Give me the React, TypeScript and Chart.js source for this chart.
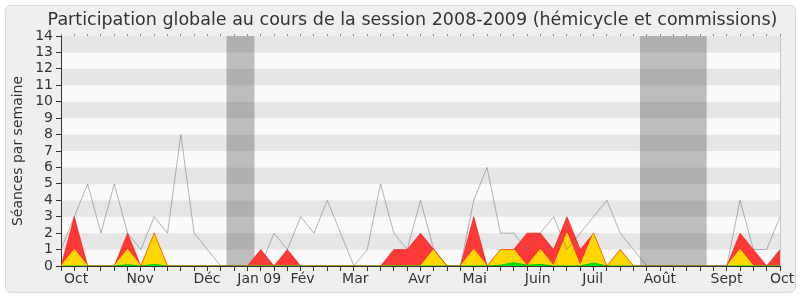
import React, { useEffect, useRef } from "react";
import { Chart, registerables } from "chart.js";

Chart.register(...registerables);
Chart.defaults.font.family = "'DejaVu Sans', sans-serif";

// Weekly values, session 2008-2009 (55 weeks, Oct -> Oct)
const semaines = [
  0, 1, 2, 3, 4, 5, 6, 7, 8, 9, 10, 11, 12, 13, 14, 15, 16, 17, 18, 19, 20, 21, 22, 23, 24, 25, 26, 27,
  28, 29, 30, 31, 32, 33, 34, 35, 36, 37, 38, 39, 40, 41, 42, 43, 44, 45, 46, 47, 48, 49, 50, 51, 52, 53, 54,
];

// red: total sessions attended (hémicycle + commissions)
const seancesTotal = [
  0, 3, 0, 0, 0, 2, 0, 2, 0, 0, 0, 0, 0, 0, 0, 1, 0, 1, 0, 0, 0, 0, 0, 0, 0, 1, 1, 2,
  1, 0, 0, 3, 0, 1, 1, 2, 2, 1, 3, 1, 2, 0, 1, 0, 0, 0, 0, 0, 0, 0, 0, 2, 1, 0, 1,
];

// yellow: commission sessions
const seancesCommission = [
  0, 1, 0, 0, 0, 1, 0, 2, 0, 0, 0, 0, 0, 0, 0, 0, 0, 0, 0, 0, 0, 0, 0, 0, 0, 0, 0, 0,
  1, 0, 0, 1, 0, 1, 1, 0, 1, 0, 2, 0, 2, 0, 1, 0, 0, 0, 0, 0, 0, 0, 0, 1, 0, 0, 0,
];

// green: interventions
const interventions = [
  0, 0, 0, 0, 0, 0.08, 0, 0.1, 0, 0, 0, 0, 0, 0, 0, 0, 0, 0, 0, 0, 0, 0, 0, 0, 0, 0, 0, 0,
  0, 0, 0, 0, 0, 0.05, 0.2, 0.05, 0.1, 0, 0, 0, 0.18, 0, 0, 0, 0, 0, 0, 0, 0, 0, 0, 0, 0, 0, 0,
];

// grey line: average deputy participation
const moyenne = [
  1, 3, 5, 2, 5, 2, 1, 3, 2, 8, 2, 1, 0, 0, 0, 0, 2, 1, 3, 2, 4, 2, 0, 1, 5, 2, 1, 4,
  1, 0, 0, 4, 6, 2, 2, 1, 2, 3, 1, 2, 3, 4, 2, 1, 0, 0, 0, 0, 0, 0, 0, 4, 1, 1, 3,
];

const moisLabels = ["Oct", "Nov", "Déc", "Jan 09", "Fév", "Mar", "Avr", "Mai", "Juin", "Juil", "Août", "Sept", "Oct"];
const moisPositions = [1.13, 5.94, 10.96, 14.89, 18.14, 22.1, 26.94, 31.07, 35.8, 39.93, 44.98, 49.98, 54.16];

// vacation periods (in week units)
const vacancesDebut = [12.43, 43.48];
const vacancesFin = [14.53, 48.49];

const TITLE = "Participation globale au cours de la session 2008-2009 (hémicycle et commissions)";
const Y_TITLE = "Séances par semaine";

const toXY = (arr: number[]) => arr.map((v, i) => ({ x: semaines[i], y: v }));

const moisLabel = (v: number) => {
  const i = moisPositions.findIndex((p) => Math.abs(p - v) < 1e-6);
  return i >= 0 ? moisLabels[i] : "";
};

const backdrop = {
  id: "backdrop",
  beforeDraw(chart: any) {
    const { ctx, chartArea: a, scales } = chart;
    const x = scales.x;
    const y = scales.y;
    ctx.save();
    for (let v = 0; v < 14; v++) {
      const top = y.getPixelForValue(v + 1);
      const bot = y.getPixelForValue(v);
      ctx.fillStyle = v % 2 ? "#E6E6E6" : "#FAFAFA";
      ctx.fillRect(a.left, top, a.right - a.left, bot - top);
    }
    ctx.fillStyle = "rgba(50,50,50,0.3)";
    for (let i = 0; i < vacancesDebut.length; i++) {
      const l = x.getPixelForValue(vacancesDebut[i]);
      const r = x.getPixelForValue(vacancesFin[i]);
      ctx.fillRect(l, a.top, r - l, a.bottom - a.top);
    }
    ctx.strokeStyle = "#C8C8C8";
    ctx.lineWidth = 1;
    ctx.beginPath();
    ctx.moveTo(Math.round(a.right) + 0.5, a.top);
    ctx.lineTo(Math.round(a.right) + 0.5, a.bottom);
    ctx.stroke();
    // chart title
    ctx.fillStyle = "#333";
    ctx.font = "17.5px 'DejaVu Sans', sans-serif";
    ctx.textAlign = "center";
    ctx.textBaseline = "middle";
    ctx.fillText(TITLE, 412.5, 20.5);
    ctx.restore();
  },
};

export default function App() {
  const ref = useRef<HTMLCanvasElement | null>(null);

  useEffect(() => {
    if (!ref.current) return;
    const chart = new Chart(ref.current, {
      type: "line",
      data: {
        datasets: [
          {
            label: "total-line",
            data: toXY(seancesTotal),
            borderColor: "rgba(255,0,0,0.55)",
            borderWidth: 1,
            fill: false,
            pointRadius: 0,
            tension: 0,
          },
          {
            label: "moyenne",
            data: toXY(moyenne),
            borderColor: "rgba(110,110,110,0.5)",
            borderWidth: 1,
            fill: false,
            pointRadius: 0,
            tension: 0,
          },
          {
            label: "interventions",
            data: toXY(interventions),
            borderColor: "#00C800",
            backgroundColor: "#00E600",
            borderWidth: 1,
            fill: "origin",
            pointRadius: 0,
            tension: 0,
          },
          {
            label: "commission",
            data: toXY(seancesCommission),
            borderColor: "#FFEA00",
            backgroundColor: "#FFD700",
            borderWidth: 1,
            fill: "origin",
            pointRadius: 0,
            tension: 0,
          },
          {
            label: "total",
            data: toXY(seancesTotal),
            borderColor: "rgba(0,0,0,0)",
            backgroundColor: "#FF3838",
            borderWidth: 0,
            fill: "origin",
            pointRadius: 0,
            tension: 0,
          },
        ],
      },
      options: {
        animation: false,
        responsive: false,
        events: [],
        layout: { padding: { left: 0, right: 20, top: 34, bottom: 0 } },
        plugins: {
          legend: { display: false },
          tooltip: { enabled: false },
          title: { display: false },
        },
        scales: {
          x: {
            type: "linear",
            position: "bottom",
            min: 0,
            max: 54,
            afterBuildTicks: (s: any) => {
              const t = semaines.map((v) => ({ value: v })).concat(moisPositions.map((v) => ({ value: v })));
              t.sort((a, b) => a.value - b.value);
              s.ticks = t;
            },
            afterFit: (s: any) => {
              s.height = 34;
            },
            ticks: {
              autoSkip: false,
              maxRotation: 0,
              minRotation: 0,
              padding: 0,
              color: "#333",
              font: { size: 14 },
              callback: (v: any) => moisLabel(Number(v)),
            },
            grid: {
              drawOnChartArea: false,
              tickLength: 5,
              tickColor: (ctx: any) =>
                ctx.tick && moisLabel(ctx.tick.value) !== "" ? "rgba(0,0,0,0)" : "#333",
            },
            border: { color: "#333" },
          },
          xTop: {
            type: "linear",
            position: "top",
            min: 0,
            max: 54,
            afterBuildTicks: (s: any) => {
              s.ticks = semaines.map((v) => ({ value: v }));
            },
            afterFit: (s: any) => {
              s.height = 2;
            },
            ticks: { display: false },
            grid: { drawOnChartArea: false, tickLength: 2, tickColor: "#888" },
            border: { display: false },
          },
          y: {
            min: 0,
            max: 14,
            ticks: {
              stepSize: 1,
              autoSkip: false,
              padding: 3,
              color: "#333",
              font: { size: 14 },
            },
            grid: { drawOnChartArea: false, tickLength: 5, tickColor: "#333" },
            border: { color: "#333" },
            title: {
              display: true,
              text: Y_TITLE,
              color: "#333",
              font: { size: 14 },
              padding: { top: 10, bottom: 0 },
            },
            afterFit: (s: any) => {
              s.width = 61;
            },
          },
        },
      } as any,
      plugins: [backdrop],
    });
    return () => chart.destroy();
  }, []);

  return (
    <div style={{ position: "absolute", left: 0, top: 0, width: 800, height: 300, background: "#fff" }}>
      <div
        style={{
          position: "absolute",
          left: 5,
          top: 5,
          width: 789,
          height: 286,
          border: "1px solid #DADADA",
          borderRadius: 6,
          background: "#EFEFEF",
        }}
      />
      <canvas ref={ref} width={800} height={300} style={{ position: "absolute", left: 0, top: 0, width: 800, height: 300 }} />
    </div>
  );
}
